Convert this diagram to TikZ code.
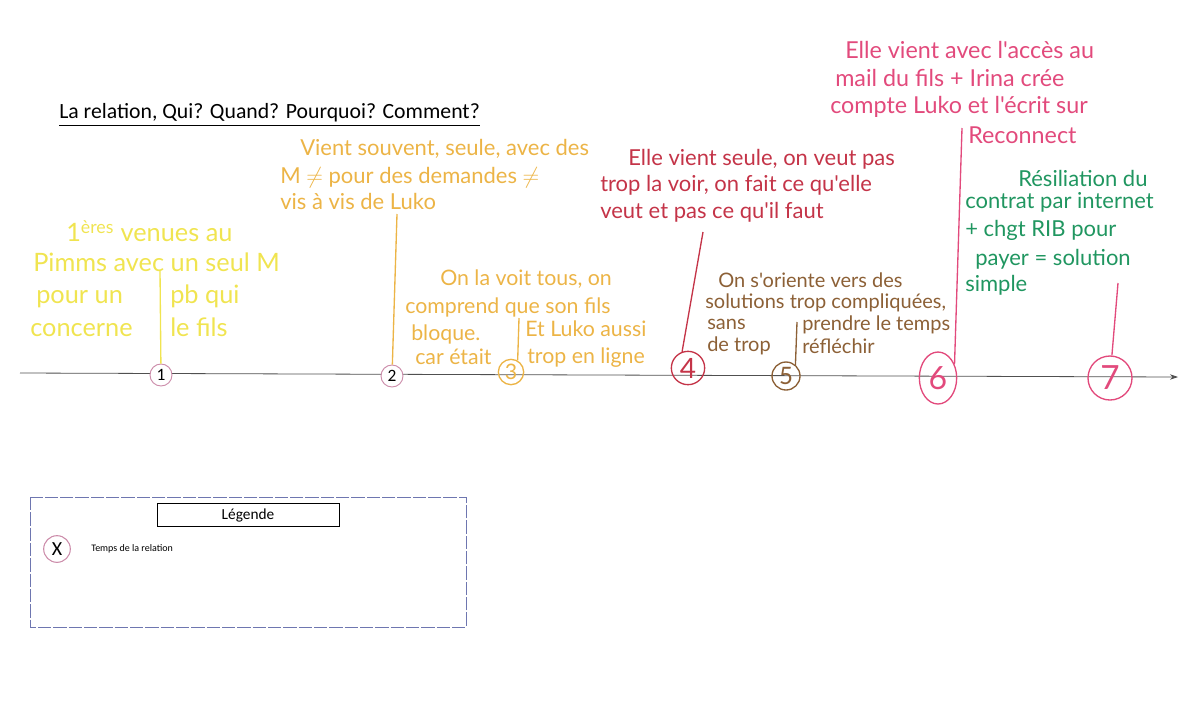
\documentclass[tikz,border=0pt]{standalone}
\usepackage{amsmath}
\usepackage{amssymb}
\usepackage{fontspec}
\usepackage{tikz}
\usepackage{xcolor}
\usetikzlibrary{arrows.meta,shapes.geometric}
\setmainfont{Carlito}
\newfontfamily\handfont{Lato}

\definecolor{penYellow}{RGB}{240,228,80}
\definecolor{penOrange}{RGB}{236,180,70}
\definecolor{penRed}{RGB}{196,52,72}
\definecolor{penBrown}{RGB}{140,96,54}
\definecolor{penPink}{RGB}{226,74,124}
\definecolor{penGreen}{RGB}{32,150,96}
\definecolor{ringPink}{RGB}{204,140,170}
\definecolor{boxBlue}{RGB}{110,118,176}

\begin{document}
\begin{tikzpicture}[x=0.75pt,y=0.75pt,yscale=-1,xscale=1,
  hand/.style={font=\handfont\fontsize{#1}{#1}\selectfont, anchor=west, inner sep=0pt, text height=1.5ex, text depth=.35ex},
  mark1/.style={circle, draw=ringPink, line width=0.7pt, fill=white, inner sep=0pt, minimum size=16.5pt, font=\fontsize{13}{13}\selectfont},
  markhand/.style={circle, draw=#1, text=#1, line width=1pt, inner sep=0pt, font=\handfont\fontsize{16}{16}\selectfont},
  stem/.style={line width=1pt}]
\path[use as bounding box] (0,0) rectangle (1184,704);

% Title
\node (title) [anchor=west, inner sep=0pt, font=\fontsize{16.3}{16.3}\selectfont] at (59,115) {\underline{La relation, Qui? Quand? Pourquoi? Comment?}};

%Time axis
\coordinate (axisL) at (20,373);
\coordinate (axisR) at (1178,377);
\draw [line width=0.6pt, color={rgb, 255:red, 80; green, 80; blue, 80}, -{Stealth[length=6pt,width=4pt]}] (axisL) -- (axisR);

%Time marks
\node (c1) [mark1] at (161,375) {1};
\node (c2) [mark1] at (392,376) {2};
\node (c3) [markhand=penOrange, minimum size=19pt] at (511,372) {3};
\node (c4) [markhand=penRed, minimum size=25pt, font=\handfont\fontsize{21}{21}\selectfont] at (688,368) {4};
\node (c5) [markhand=penBrown, minimum size=21pt, font=\handfont\fontsize{18}{18}\selectfont] at (786,376) {5};
\node (c6) [ellipse, draw=penPink, text=penPink, line width=1pt, inner sep=0pt, minimum width=28pt, minimum height=39pt, font=\handfont\fontsize{24}{24}\selectfont] at (938,378) {6};
\node (c7) [markhand=penPink, minimum size=33pt, font=\handfont\fontsize{25}{25}\selectfont] at (1110,378) {7};

% Text Node : 1
\node (t1a) [hand=19, text=penYellow] at (66,238) {1\textsuperscript{ères} venues au};
\node (t1b) [hand=19, text=penYellow] at (33,268) {Pimms avec un seul M};
\node (t1c) [hand=19, text=penYellow] at (36,300) {pour un};
\node (t1d) [hand=19, text=penYellow] at (170,300) {pb qui};
\node (t1e) [hand=19, text=penYellow] at (30,333) {concerne};
\node (t1f) [hand=19, text=penYellow] at (170,333) {le fils};
\coordinate (k1) at (160,270);
\draw [stem, penYellow] (k1) -- (c1);

% Text Node : 2
\node (t2a) [hand=16.5, text=penOrange] at (300,152) {Vient souvent, seule, avec des};
\node (t2b) [hand=16.5, text=penOrange] at (280,180) {M $\neq$ pour des demandes $\neq$};
\node (t2c) [hand=16.5, text=penOrange] at (280,206) {vis à vis de Luko};
\coordinate (k2) at (397,214);
\draw [stem, penOrange] (k2) -- (c2);

% Text Node : 3
\node (t3a) [hand=16, text=penOrange] at (440,282) {On la voit tous, on};
\node (t3b) [hand=16, text=penOrange] at (405,310) {comprend que son fils};
\node (t3c) [hand=16, text=penOrange] at (411,337) {bloque.};
\node (t3d) [hand=16, text=penOrange] at (415,361) {car était};
\node (t3e) [hand=16, text=penOrange] at (525,333) {Et Luko aussi};
\node (t3f) [hand=16, text=penOrange] at (527,360) {trop en ligne};
\coordinate (k3) at (519,318);
\draw [stem, penOrange] (k3) -- (c3.60);

% Text Node : 4
\node (t4a) [hand=16.5, text=penRed] at (628,162) {Elle vient seule, on veut pas};
\node (t4b) [hand=16.5, text=penRed] at (600,188) {trop la voir, on fait ce qu'elle};
\node (t4c) [hand=16.5, text=penRed] at (600,215) {veut et pas ce qu'il faut};
\coordinate (k4) at (703,232);
\draw [stem, penRed] (k4) -- (c4.110);

% Text Node : 5
\node (t5a) [hand=15, text=penBrown] at (718,284) {On s'oriente vers des};
\node (t5b) [hand=15, text=penBrown] at (705,305) {solutions trop compliquées,};
\node (t5c) [hand=15, text=penBrown] at (707,326) {sans};
\node (t5d) [hand=15, text=penBrown] at (707,348) {de trop};
\node (t5e) [hand=15, text=penBrown] at (802,327) {prendre le temps};
\node (t5f) [hand=15, text=penBrown] at (802,350) {réfléchir};
\coordinate (k5) at (797,322);
\draw [stem, penBrown] (k5) -- (c5.50);

% Text Node : 6
\node (t6a) [hand=17.5, text=penPink] at (845,55) {Elle vient avec l'accès au};
\node (t6b) [hand=17.5, text=penPink] at (835,83) {mail du fils + Irina crée};
\node (t6c) [hand=17.5, text=penPink] at (830,110) {compte Luko et l'écrit sur};
\node (t6d) [hand=17.5, text=penPink] at (968,140) {Reconnect};
\coordinate (k6) at (962,128);
\draw [stem, penPink] (k6) -- (c6.40);

% Text Node : 7
\node (t7a) [hand=16.5, text=penGreen] at (1018,183) {Résiliation du};
\node (t7b) [hand=16.5, text=penGreen] at (965,205) {contrat par internet};
\node (t7c) [hand=16.5, text=penGreen] at (965,233) {+ chgt RIB pour};
\node (t7d) [hand=16.5, text=penGreen] at (975,262) {payer = solution};
\node (t7e) [hand=16.5, text=penGreen] at (965,288) {simple};
\coordinate (k7) at (1118,283);
\draw [stem, penPink] (k7) -- (c7);

%Legend
\draw [color=boxBlue, line width=0.7pt, dash pattern=on 10pt off 1.5pt] (30,497) rectangle (466,627);
\node (legend) [draw, line width=0.6pt, minimum width=136.5pt, minimum height=17pt, inner sep=0pt, font=\fontsize{11.5}{11.5}\selectfont] at (248,515) {Légende};
\node (lx) [circle, draw=ringPink, line width=0.8pt, inner sep=0pt, minimum size=20pt, font=\fontsize{15}{15}\selectfont] at (57,549) {X};
\node (lxt) [anchor=west, inner sep=0pt, font=\fontsize{7.5}{7.5}\selectfont] at (91,549) {Temps de la relation};
\end{tikzpicture}
\end{document}
